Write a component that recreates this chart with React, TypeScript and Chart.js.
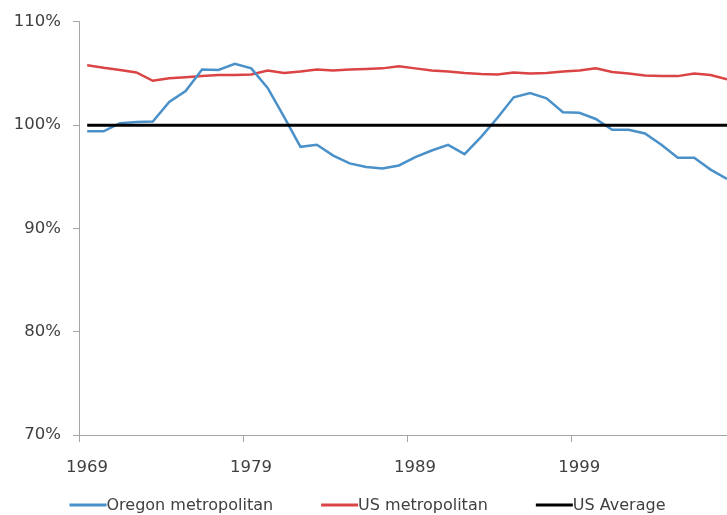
import React, { useEffect, useRef } from "react";
import { Chart, registerables } from "chart.js";
Chart.register(...registerables);

const years = [
  1969, 1970, 1971, 1972, 1973, 1974, 1975, 1976, 1977, 1978,
  1979, 1980, 1981, 1982, 1983, 1984, 1985, 1986, 1987, 1988,
  1989, 1990, 1991, 1992, 1993, 1994, 1995, 1996, 1997, 1998,
  1999, 2000, 2001, 2002, 2003, 2004, 2005, 2006, 2007, 2008,
];

const oregonMetro = [
  99.4, 99.4, 100.2, 100.3, 100.35, 102.25, 103.3, 105.4, 105.35, 105.95,
  105.5, 103.6, 100.8, 97.9, 98.1, 97.05, 96.3, 95.95, 95.8, 96.1,
  96.9, 97.55, 98.1, 97.2, 98.85, 100.7, 102.7, 103.1, 102.6, 101.25,
  101.2, 100.6, 99.55, 99.55, 99.2, 98.1, 96.85, 96.85, 95.7, 94.8,
];

const usMetro = [
  105.8, 105.55, 105.35, 105.1, 104.3, 104.55, 104.65, 104.75, 104.85, 104.85,
  104.9, 105.3, 105.05, 105.2, 105.4, 105.3, 105.4, 105.45, 105.5, 105.7,
  105.5, 105.3, 105.2, 105.05, 104.95, 104.9, 105.1, 105.0, 105.05, 105.2,
  105.3, 105.5, 105.15, 105.0, 104.8, 104.75, 104.75, 105.0, 104.85, 104.45,
];

const usAverage = [
  100, 100, 100, 100, 100, 100, 100, 100, 100, 100,
  100, 100, 100, 100, 100, 100, 100, 100, 100, 100,
  100, 100, 100, 100, 100, 100, 100, 100, 100, 100,
  100, 100, 100, 100, 100, 100, 100, 100, 100, 100,
];

const xTickYears = [1969, 1979, 1989, 1999];
const yTicks = [70, 80, 90, 100, 110];

const FONT = '"DejaVu Sans", sans-serif';
const TEXT = "#404040";
const AXIS = "#a6a6a6";

const legendPlugin = {
  id: "bottomLegend",
  afterDraw(chart: any) {
    const ctx = chart.ctx;
    ctx.save();
    ctx.font = `16px ${FONT}`;
    const lineLen = 37;
    const gap = 48;
    const items = chart.data.datasets.map((d: any) => ({
      label: d.label,
      color: d.borderColor,
      w: ctx.measureText(d.label).width,
    }));
    const total =
      items.reduce((s: number, it: any) => s + lineLen + it.w, 0) +
      gap * (items.length - 1);
    let x = chart.width / 2 - total / 2 + 4;
    const y = 505;
    items.forEach((it: any) => {
      ctx.strokeStyle = it.color;
      ctx.lineWidth = 3;
      ctx.beginPath();
      ctx.moveTo(x, y);
      ctx.lineTo(x + lineLen, y);
      ctx.stroke();
      ctx.fillStyle = TEXT;
      ctx.textBaseline = "middle";
      ctx.textAlign = "left";
      ctx.fillText(it.label, x + lineLen, y + 1);
      x += lineLen + it.w + gap;
    });
    ctx.restore();
  },
};

export default function App() {
  const ref = useRef<HTMLCanvasElement | null>(null);
  useEffect(() => {
    if (!ref.current) return;
    const toPts = (arr: number[]) => years.map((y, i) => ({ x: y, y: arr[i] }));
    const chart = new Chart(ref.current, {
      type: "line",
      data: {
        datasets: [
          {
            label: "Oregon metropolitan",
            data: toPts(oregonMetro),
            borderColor: "#4a90c9",
            borderWidth: 2.5,
            pointRadius: 0,
            tension: 0,
            order: 2,
          },
          {
            label: "US metropolitan",
            data: toPts(usMetro),
            borderColor: "#db4444",
            borderWidth: 2.5,
            pointRadius: 0,
            tension: 0,
            order: 3,
          },
          {
            label: "US Average",
            data: toPts(usAverage),
            borderColor: "#000000",
            borderWidth: 3,
            pointRadius: 0,
            tension: 0,
            order: 1,
          },
        ],
      },
      options: {
        responsive: false,
        animation: false,
        layout: { padding: { top: 19, left: 0, right: 0, bottom: 0 } },
        plugins: {
          legend: { display: false },
          tooltip: { enabled: false },
        },
        scales: {
          x: {
            type: "linear",
            min: years[0] - 0.5,
            max: years[years.length - 1],
            afterBuildTicks: (scale: any) => {
              scale.ticks = xTickYears.map((v) => ({ value: v - 0.5 }));
            },
            afterFit: (scale: any) => {
              scale.height = 80;
            },
            grid: {
              display: true,
              drawOnChartArea: false,
              drawTicks: true,
              tickLength: 7,
              color: AXIS,
            },
            border: { display: true, color: AXIS, width: 1 },
            ticks: {
              autoSkip: false,
              maxRotation: 0,
              labelOffset: 8,
              padding: 16,
              color: TEXT,
              font: { family: FONT, size: 16.5 },
              callback: (v: any) => String(Math.round(Number(v) + 0.5)),
            },
          },
          y: {
            min: yTicks[0],
            max: yTicks[yTicks.length - 1],
            afterBuildTicks: (scale: any) => {
              scale.ticks = yTicks.map((v) => ({ value: v }));
            },
            afterFit: (scale: any) => {
              scale.width = 79;
            },
            grid: {
              display: true,
              drawOnChartArea: false,
              drawTicks: true,
              tickLength: 6,
              color: AXIS,
            },
            border: { display: true, color: AXIS, width: 1 },
            ticks: {
              padding: 12,
              color: TEXT,
              font: { family: FONT, size: 16.5 },
              callback: (v: any) => `${v}%`,
            },
          },
        },
      },
      plugins: [legendPlugin],
    });
    return () => chart.destroy();
  }, []);
  return (
    <div style={{ position: "absolute", left: 0, top: 0, width: 727, height: 515, background: "#fff" }}>
      <canvas ref={ref} width={727} height={515} />
    </div>
  );
}
